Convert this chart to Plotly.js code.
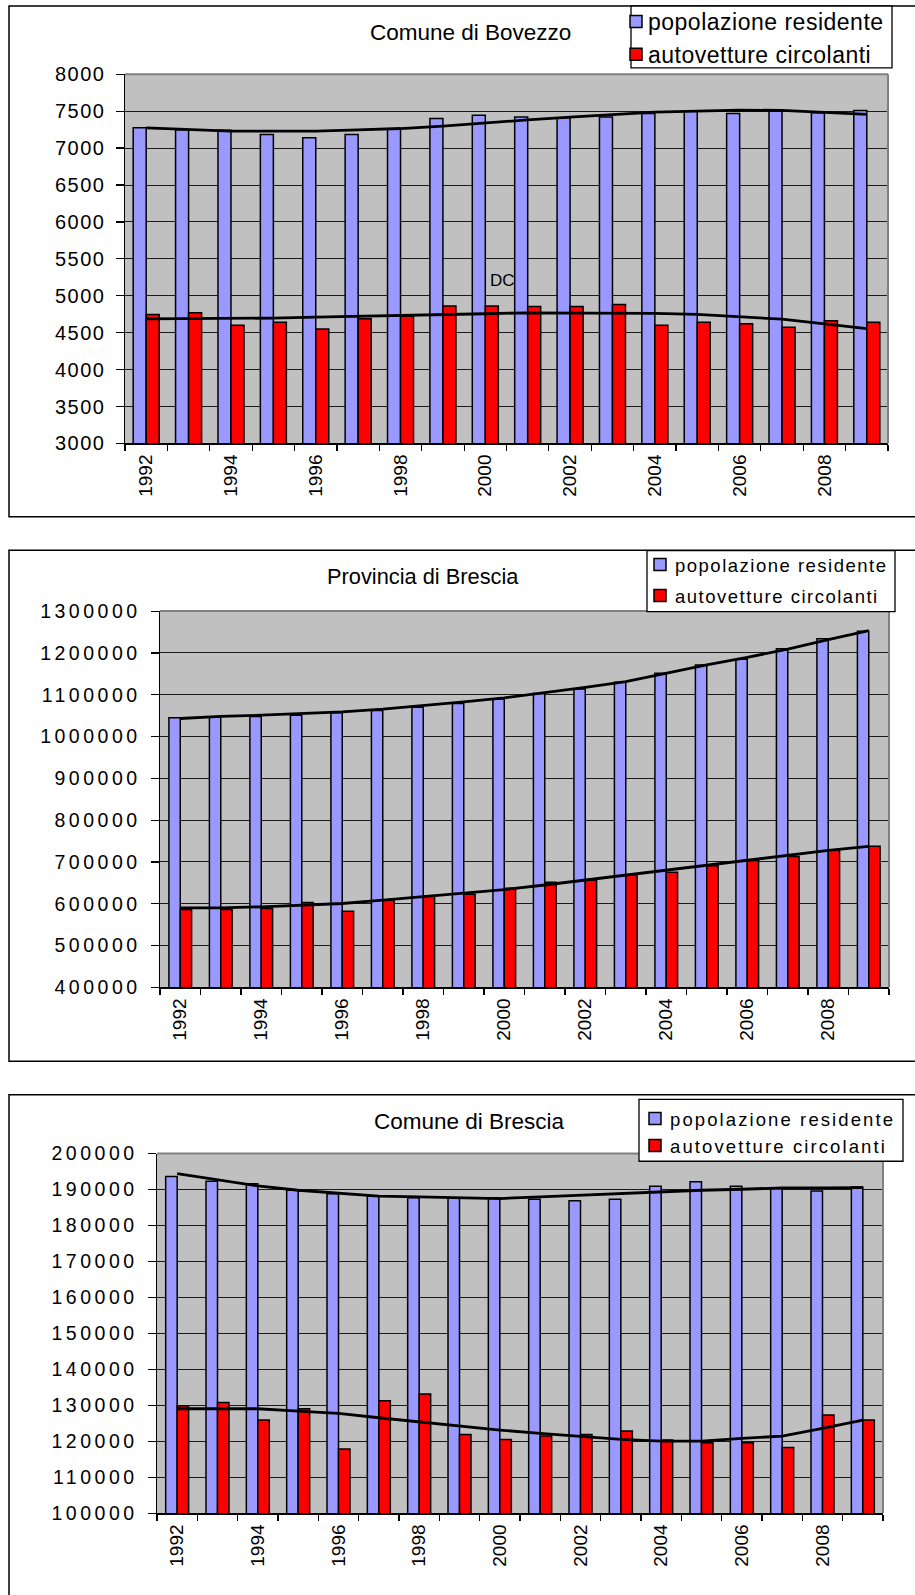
<!DOCTYPE html>
<html><head><meta charset="utf-8">
<script src="https://cdn.plot.ly/plotly-3.0.1.min.js"></script>
<style>
html,body{margin:0;padding:0;background:#fff;}
#chart{width:915px;height:1595px;}
.ytick text{letter-spacing:1.5px;}
.y2tick text, .y3tick text{letter-spacing:3.5px;}
</style></head><body><div id="chart"></div>
<script>
// ---- data ----
const years = [1992,1993,1994,1995,1996,1997,1998,1999,2000,2001,2002,2003,2004,2005,2006,2007,2008,2009];
const yearLabels = [1992,1994,1996,1998,2000,2002,2004,2006,2008];
const seriesNames = ['popolazione residente','autovetture circolanti'];
const chartTitles = ['Comune di Bovezzo','Provincia di Brescia','Comune di Brescia'];

const bovezzoPop = [7275,7250,7240,7185,7140,7185,7260,7400,7445,7420,7410,7420,7470,7500,7470,7500,7480,7510];
const bovezzoCars = [4745,4770,4600,4640,4550,4690,4725,4860,4860,4855,4855,4880,4600,4640,4620,4575,4660,4640];
const bovezzoPopTrend = [7274,7251,7229,7229,7229,7247,7265,7297,7342,7383,7419,7456,7487,7501,7515,7510,7487,7456];
const bovezzoCarsTrend = [4688,4688,4688,4697,4710,4724,4733,4747,4756,4769,4769,4769,4760,4747,4715,4683,4619,4555];

const provPop = [1045000,1046000,1048000,1051000,1057000,1062000,1070000,1079000,1090000,1103000,1113500,1129600,1151300,1171400,1185000,1210000,1234100,1251800];
const provCars = [586300,586300,588700,603000,582300,608600,618200,623000,637000,651300,656900,668900,675400,690700,703500,713200,729300,737300];
const provPopTrend = [1043200,1048000,1051000,1054400,1059200,1065600,1073500,1083100,1092700,1104700,1117500,1131200,1151300,1171400,1189100,1209200,1231700,1253400];
const provCarsTrend = [590300,590300,592700,596700,600600,608600,616600,624600,634000,644900,656900,668900,679400,693100,705100,717100,727600,737300];

const comunePop = [193600,192300,191600,189800,188800,188200,187700,187700,187700,187300,186900,187300,190900,192200,190900,190200,189600,190700];
const comuneCars = [129900,130830,125930,129070,117870,131300,133150,121940,120560,121480,121940,122870,120370,119630,119630,118330,127310,125930];
const comunePopTrend = [194440,192780,191020,189810,189070,188150,187960,187690,187500,187960,188430,188890,189350,189810,190090,190460,190460,190560];
const comuneCarsTrend = [129070,129070,129070,128430,127780,126570,125370,124260,123150,122220,121300,120560,120090,120090,120830,121480,123610,125930];

// ---- helpers ----
const W = 915, H = 1595;
const px = x => x / W;
const py = y => 1 - y / H;
const BLUE = '#9999FF', RED = '#FF0000';
const FONT = 'Liberation Sans, Arial, sans-serif';
const boundaries = years.map(y => y - 0.5).concat([years[years.length - 1] + 0.5]);

function barPair(pop, cars, ax, ay, w, leg) {
  return [
    {type:'bar', x:years, y:pop, xaxis:ax, yaxis:ay, name:seriesNames[0], legend:leg, legendgroup:leg+'a',
     width:w, offset:-w, marker:{color:BLUE, line:{color:'#000', width:1.5}}, hoverinfo:'skip'},
    {type:'bar', x:years, y:cars, xaxis:ax, yaxis:ay, name:seriesNames[1], legend:leg, legendgroup:leg+'b',
     width:w, offset:0, marker:{color:RED, line:{color:'#000', width:1.5}}, hoverinfo:'skip'}
  ];
}
function trend(vals, ax, ay) {
  return {type:'scatter', mode:'lines', x:years, y:vals, xaxis:ax, yaxis:ay, showlegend:false,
          line:{color:'#000', width:2.8}, hoverinfo:'skip'};
}

const data = [
  ...barPair(bovezzoPop, bovezzoCars, 'x', 'y', 0.307, 'legend'),
  trend(bovezzoPopTrend, 'x', 'y'), trend(bovezzoCarsTrend, 'x', 'y'),
  ...barPair(provPop, provCars, 'x2', 'y2', 0.28, 'legend2'),
  trend(provPopTrend, 'x2', 'y2'), trend(provCarsTrend, 'x2', 'y2'),
  ...barPair(comunePop, comuneCars, 'x3', 'y3', 0.285, 'legend3'),
  trend(comunePopTrend, 'x3', 'y3'), trend(comuneCarsTrend, 'x3', 'y3')
];

function xAxis(l, r, anchor) {
  return {domain:[px(l), px(r)], anchor:anchor, range:[1991.5, 2009.5], type:'linear',
    tickmode:'array', tickvals:yearLabels, ticktext:yearLabels.map(String), tickangle:-90,
    ticks:'', ticklabelstandoff:2,
    minor:{tickmode:'array', tickvals:boundaries, ticks:'outside', ticklen:6, tickwidth:1.2, tickcolor:'#000', showgrid:false},
    showline:true, linecolor:'#000', linewidth:1.5, showgrid:false, zeroline:false,
    tickfont:{family:FONT, size:19, color:'#000'}, fixedrange:true};
}
function yAxis(t, b, anchor, lo, hi, step, fs) {
  return {domain:[py(b), py(t)], anchor:anchor, range:[lo, hi], tick0:lo, dtick:step,
    ticks:'outside', ticklen:8, tickwidth:1.2, tickcolor:'#000', ticklabelstandoff:6,
    showline:true, linecolor:'#000', linewidth:1.5, showgrid:true, gridcolor:'#1a1a1a', gridwidth:1,
    zeroline:false, tickformat:'d',
    tickfont:{family:FONT, size:fs, color:'#000'}, fixedrange:true};
}

function boxPath(l, t, b) {
  return {type:'path', xref:'paper', yref:'paper', layer:'above',
    path:`M ${px(940)},${py(t)} L ${px(l)},${py(t)} L ${px(l)},${py(b)} L ${px(940)},${py(b)}`,
    line:{color:'#000', width:1.5}};
}
function plotEdges(ax, ay) {
  return [
    {type:'line', xref:ax+' domain', yref:ay+' domain', x0:0, x1:1, y0:1, y1:1, line:{color:'#808080', width:2}, layer:'above'},
    {type:'line', xref:ax+' domain', yref:ay+' domain', x0:1, x1:1, y0:0, y1:1, line:{color:'#808080', width:2}, layer:'above'}
  ];
}
function legendFrame(l, r, t, b) {
  return {type:'rect', xref:'paper', yref:'paper', layer:'above', x0:px(l), x1:px(r), y0:py(b), y1:py(t),
    fillcolor:'#fff', line:{color:'#000', width:1.3}};
}

const shapes = [
  boxPath(9, 5, 516),
  boxPath(9, 549.5, 1061),
  {type:'path', xref:'paper', yref:'paper', layer:'above',
    path:`M ${px(940)},${py(1094.5)} L ${px(9)},${py(1094.5)} L ${px(9)},${py(1620)}`, line:{color:'#000', width:1.5}},
  ...plotEdges('x', 'y'), ...plotEdges('x2', 'y2'), ...plotEdges('x3', 'y3'),
  legendFrame(631, 892, 5, 67),
  legendFrame(647, 895, 550, 611),
  legendFrame(639, 903, 1099, 1161)
];

const annotations = [
  {xref:'paper', yref:'paper', x:px(470), y:py(32), xanchor:'center', yanchor:'middle', showarrow:false,
   text:chartTitles[0], font:{family:FONT, size:22.5, color:'#000'}},
  {xref:'paper', yref:'paper', x:px(423), y:py(576), xanchor:'center', yanchor:'middle', showarrow:false,
   text:chartTitles[1], font:{family:FONT, size:21.8, color:'#000'}},
  {xref:'paper', yref:'paper', x:px(469), y:py(1121), xanchor:'center', yanchor:'middle', showarrow:false,
   text:chartTitles[2], font:{family:FONT, size:22.5, color:'#000'}},
  {xref:'x', yref:'y', x:2000.4, y:5200, xanchor:'center', yanchor:'middle', showarrow:false,
   text:'DC', font:{family:FONT, size:17, color:'#000'}}
];

const legBase = {xanchor:'left', yanchor:'top', bgcolor:'rgba(0,0,0,0)', borderwidth:0, orientation:'v',
  itemclick:false, itemdoubleclick:false};

const layout = {
  width:W, height:H, margin:{l:0, r:0, t:0, b:0}, paper_bgcolor:'#fff', plot_bgcolor:'#C0C0C0',
  barmode:'overlay', showlegend:true,
  xaxis:xAxis(125, 888, 'y'), yaxis:yAxis(73.3, 442.7, 'x', 3000, 8000, 500, 20),
  xaxis2:xAxis(160, 889, 'y2'), yaxis2:yAxis(610.5, 987, 'x2', 400000, 1300000, 100000, 19.5),
  xaxis3:xAxis(157, 883, 'y3'), yaxis3:yAxis(1153.3, 1513.3, 'x3', 100000, 200000, 10000, 19.5),
  legend:Object.assign({}, legBase, {x:px(608), y:py(-1), traceorder:'normal',
    font:{family:FONT, size:23, color:'#000'}}),
  legend2:Object.assign({}, legBase, {x:px(635), y:py(546), traceorder:'grouped', tracegroupgap:4,
    font:{family:FONT, size:18.5, color:'#000'}}),
  legend3:Object.assign({}, legBase, {x:px(630), y:py(1100), traceorder:'normal',
    font:{family:FONT, size:18.5, color:'#000'}}),
  shapes:shapes, annotations:annotations
};

Plotly.newPlot('chart', data, layout, {displayModeBar:false, staticPlot:true}).then(function () {
  document.querySelectorAll('.infolayer [clip-path]').forEach(function (el) {
    el.removeAttribute('clip-path');
  });
  document.querySelectorAll('.infolayer g.traces').forEach(function (tr) {
    var top = tr.getBoundingClientRect().top;
    var chart = top < 300 ? 1 : (top < 1000 ? 2 : 3);
    var layers = tr.querySelector('g.layers');
    if (layers) layers.style.transform = 'translate(' + (chart === 1 ? 8 : 5) + 'px,0px)';
    var txt = tr.querySelector('text');
    if (txt) txt.style.letterSpacing = chart === 1 ? '0.5px' : (chart === 2 ? '1.5px' : '2.1px');
  });
});
</script>
</body></html>
